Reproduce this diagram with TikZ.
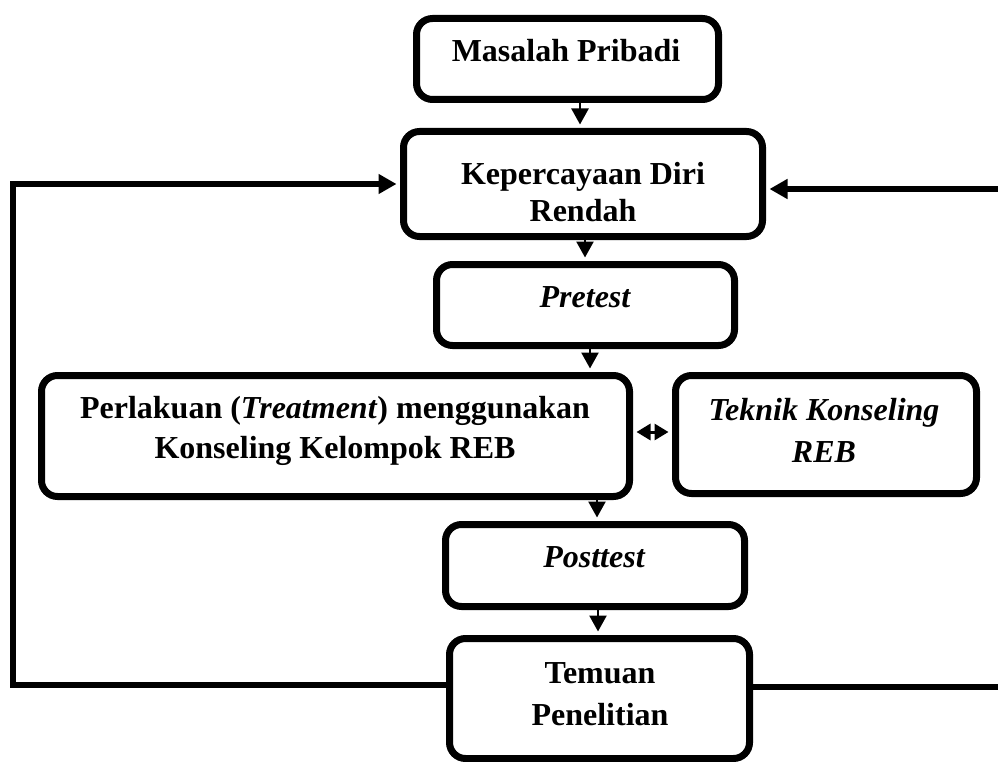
\documentclass[tikz,border=0pt]{standalone}
\usepackage{fontspec}
\setmainfont{Liberation Serif}
\usetikzlibrary{arrows.meta}
\begin{document}
\begin{tikzpicture}[x=1pt,y=-1pt,
  box/.style={draw=black, line width=7pt, rounded corners=16pt, rectangle, inner sep=0pt, fill=white},
  txt/.style={inner sep=0pt, align=center, font=\fontsize{32}{41}\selectfont\bfseries},
  thinarr/.style={line width=2.5pt, -{Triangle[length=16pt,width=17pt]}, shorten >=3.5pt},
  dblarr/.style={line width=3pt, {Triangle[length=14pt,width=16pt]}-{Triangle[length=14pt,width=16pt]}, shorten >=3.5pt, shorten <=3.5pt},
  fbline/.style={line width=6pt},
  fbarr/.style={line width=6pt, -{Triangle[length=18pt,width=19pt]}, shorten >=3.5pt}]
\useasboundingbox (0,0) rectangle (998,762);
\fill[white] (0,0) rectangle (998,762);

% boxes
\node[box, minimum width=302pt, minimum height=81pt]  (b1) at (567.5,59)  {};
\node[box, minimum width=359pt, minimum height=105pt] (b2) at (583,184)   {};
\node[box, minimum width=298pt, minimum height=81pt]  (b3) at (585.5,305) {};
\node[box, minimum width=588pt, minimum height=121pt] (b4) at (335.5,436) {};
\node[box, minimum width=301pt, minimum height=118pt] (b5) at (826,434.5) {};
\node[box, minimum width=299pt, minimum height=82pt]  (b6) at (595,565.5) {};
\node[box, minimum width=300pt, minimum height=120pt] (b7) at (599.5,698.5) {};

% texts
\node[txt] (t1) at (566,51) {Masalah Pribadi};
\node[txt, font=\fontsize{32}{37}\selectfont\bfseries] (t2) at (583,192) {Kepercayaan Diri\\Rendah};
\node[txt] (t3) at (585,297.5) {\itshape Pretest};
\node[txt, font=\fontsize{32}{40}\selectfont\bfseries] (t4) at (335,431) {Perlakuan (\textit{Treatment}) menggunakan\\Konseling Kelompok REB};
\node[txt, font=\fontsize{32}{42}\selectfont\bfseries] (t5) at (824,430) {\itshape Teknik Konseling\\\itshape REB};
\node[txt] (t6) at (594,557.5) {\itshape Posttest};
\node[txt, font=\fontsize{32}{42}\selectfont\bfseries] (t7) at (600,694) {Temuan\\Penelitian};

% arrow positions
\coordinate (a12) at (580,0);
\coordinate (a23) at (585,0);
\coordinate (a34) at (590,0);
\coordinate (a46) at (597,0);
\coordinate (a67) at (598,0);
\coordinate (a45) at (0,432);

\draw[thinarr] (b1.south -| a12) -- (b2.north -| a12);
\draw[thinarr] (b2.south -| a23) -- (b3.north -| a23);
\draw[thinarr] (b3.south -| a34) -- (b4.north -| a34);
\draw[thinarr] (b4.south -| a46) -- (b6.north -| a46);
\draw[thinarr] (b6.south -| a67) -- (b7.north -| a67);
\draw[dblarr] (b4.east |- a45) -- (b5.west |- a45);

% feedback loops
\coordinate (L1) at (13,685);
\coordinate (L2) at (13,184);
\coordinate (R1) at (998,687);
\coordinate (R2) at (998,189);
\draw[fbarr] (b7.west |- L1) -- (L1) -- (L2) -- (b2.west |- L2);
\draw[fbline] (b7.east |- R1) -- (R1);
\draw[fbarr] (R2) -- (b2.east |- R2);
\end{tikzpicture}
\end{document}
